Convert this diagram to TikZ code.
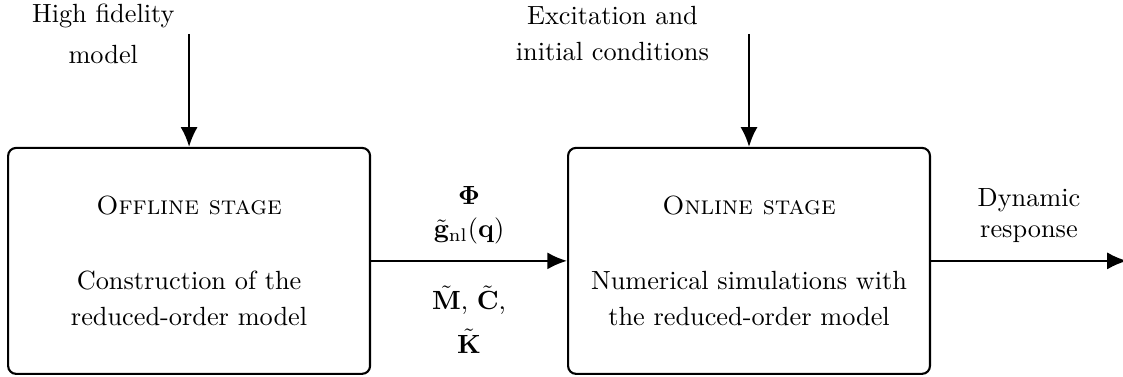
\documentclass[tikz,border=0pt]{standalone}
\usepackage{bm}
\usepackage{tikz}
\usetikzlibrary{arrows.meta,positioning}

\tikzstyle{stage} = [rectangle, draw=black, line width=0.8pt, rounded corners=3pt, text centered, align=center, minimum width=137.6pt, minimum height=85.9pt]
\tikzstyle{lbl} = [align=center, text centered]
\tikzstyle{tedge}  = [draw, line width=0.8pt, >={Latex[length=7.5pt,width=6.5pt]}, ->]

\begin{document}
\begin{tikzpicture}
\useasboundingbox (-71.9pt,-44.1pt) rectangle (355.1pt,99.2pt);

% stages =============================
\node[stage] (off) at (0,0) {\textsc{Offline stage}\\[16.5pt]Construction of the\\[2pt]reduced-order model};
\node[stage, right=74.5pt of off] (on) {\textsc{Online stage}\\[16.5pt]Numerical simulations with\\[2pt]the reduced-order model};

% inputs
\coordinate[above=43pt of off] (hfin);
\coordinate[above=43pt of on] (excin);
\node[lbl, left=2pt of hfin] (hf) {High fidelity\\[3.6pt]model};
\node[lbl, left=11.7pt of excin] (exc) {Excitation and\\[1.7pt]initial conditions};

% output
\coordinate[right=74.5pt of on] (out);

%edges
\path[tedge] (hfin) -- (off);
\path[tedge] (excin) -- (on);
\path[tedge] (off) -- node[lbl, above, inner ysep=6pt] (rom) {$\bm{\Phi}$\\[0.5pt]$\tilde{\mathbf{g}}_{\mathrm{nl}}(\mathbf{q})$}
                      node[lbl, below, inner ysep=9pt] (mats) {$\tilde{\mathbf{M}}$, $\tilde{\mathbf{C}}$,\\[4.4pt]$\tilde{\mathbf{K}}$} (on);
\path[tedge] (on) -- node[lbl, above, inner ysep=6.5pt] (resp) {Dynamic\\response} (out);

\end{tikzpicture}
\end{document}
